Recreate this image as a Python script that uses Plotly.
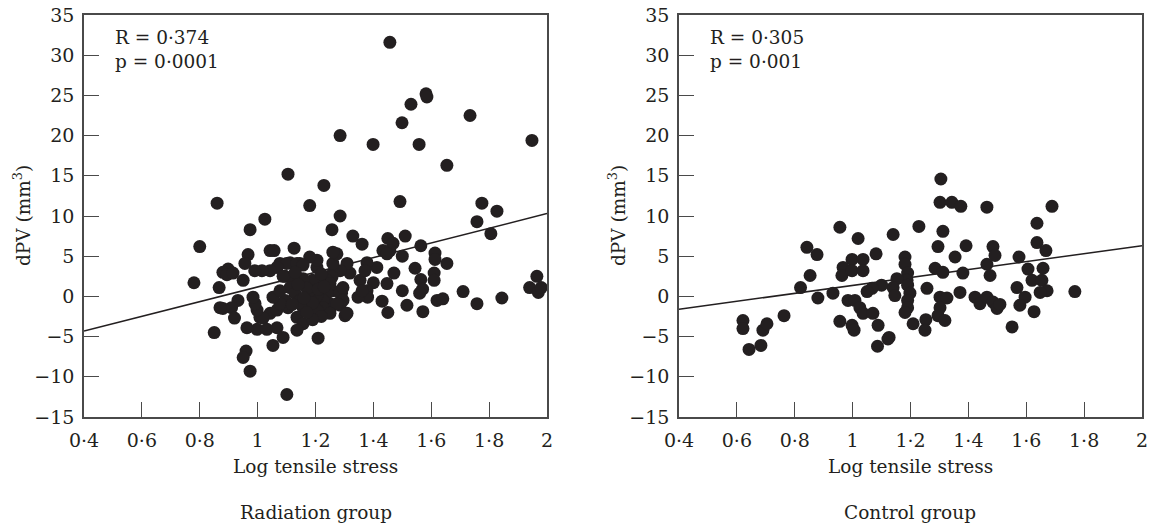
import plotly.graph_objects as go

# Radiation group: log tensile stress vs dPV (mm^3)
rad_x = [1.457, 1.582, 1.585, 1.530, 1.499, 1.734, 1.285, 1.399, 1.558, 1.948, 1.654, 1.105, 1.229,
         1.492, 0.860, 1.180, 1.775, 1.827, 1.758, 1.806, 1.285, 1.025, 0.974, 1.257, 1.329, 1.361,
         0.800, 0.780,
         1.450, 1.468, 1.457, 1.433, 1.510, 1.564, 1.613, 1.613, 1.654, 1.544, 1.564, 1.610, 1.610,
         1.570, 1.560, 1.500, 1.447, 1.471, 1.430, 1.500, 1.447, 1.412, 1.378, 1.400, 1.378, 1.380,
         1.347, 1.319, 1.309, 1.354, 1.371, 1.450, 1.516, 1.571, 1.620, 1.640, 1.710, 1.758, 1.844,
         1.965, 1.940, 1.970, 1.980, 1.302, 1.290, 1.361,
         1.285, 1.260, 1.260, 1.274, 1.257, 1.260, 1.260, 1.285, 1.295, 1.250, 1.285, 1.309, 1.250,
         1.274, 1.295, 1.240, 1.250, 1.240, 1.226, 1.226, 1.205, 1.205, 1.250, 1.209, 1.205, 1.205,
         1.215, 1.190, 1.180,
         1.180, 1.146, 1.112, 1.077, 1.043, 1.057, 1.126, 1.100, 1.136, 1.157, 1.067, 1.043, 1.015,
         0.990, 1.095, 1.118, 1.157, 1.088, 1.112, 1.129, 1.146, 1.157, 1.136, 1.157, 1.136, 1.088,
         1.053, 1.101, 1.095, 1.105, 1.043, 1.067, 1.077, 1.053, 1.077, 1.008, 1.019, 0.998, 0.991,
         0.984, 0.998, 1.032, 1.067,
         1.170, 1.190, 1.210, 1.220, 1.140, 1.160, 1.230, 1.120, 1.190, 1.170, 1.130, 1.220,
         0.967, 0.956, 0.898, 0.880, 0.894, 0.915, 0.950, 0.867, 0.932, 0.910, 0.880, 0.870, 0.920,
         0.850, 0.963, 0.960, 0.950, 0.974]
rad_y = [31.6, 25.2, 24.8, 23.9, 21.6, 22.5, 20.0, 18.9, 18.9, 19.4, 16.3, 15.2, 13.8,
         11.8, 11.6, 11.3, 11.6, 10.6, 9.3, 7.8, 10.0, 9.6, 8.3, 8.3, 7.5, 6.5,
         6.2, 1.7,
         7.2, 6.6, 5.7, 5.7, 7.5, 6.3, 5.4, 4.6, 4.1, 3.5, 2.1, 2.9, 2.0,
         0.9, 0.4, 0.7, 1.6, 2.9, -0.6, 5.0, 5.3, 3.6, 4.2, 1.7, 0.7, -0.1,
         -0.1, 2.9, 4.1, 2.0, 3.2, -2.0, -1.1, -1.9, -0.5, -0.3, 0.6, -0.9, -0.2,
         2.5, 1.1, 0.5, 1.1, -2.4, 0.4, 0.7,
         3.2, 2.9, 4.1, 5.3, 2.4, 5.5, 0.7, 0.4, -0.5, -0.9, -1.1, -2.1, -1.7,
         -0.9, 1.1, 2.0, 1.6, 0.4, -0.5, -1.4, -1.7, 0.1, -2.1, -5.2, 3.6, 4.5,
         1.6, 2.0, 0.7,
         4.9, 4.1, 4.2, 4.1, 5.7, 5.7, 6.0, 4.1, 4.1, 3.9, 3.6, 3.2, 3.2,
         3.2, 2.5, 2.2, 2.2, 2.5, 1.1, 0.4, -0.5, -1.4, -2.6, -3.4, -4.2, -5.1,
         -6.1, -12.2, -0.5, -1.4, -2.1, -1.7, -0.9, -0.1, 0.7, -2.6, -2.7, -1.7, -0.9,
         -0.1, -4.1, -4.1, -3.9,
         1.0, -0.8, 0.9, -2.5, 1.5, -0.2, 1.2, -1.0, -2.9, -2.0, 3.0, 2.8,
         5.2, 4.1, 3.4, 3.0, 2.7, 2.9, 2.0, 1.1, -0.5, -1.4, -1.5, -1.4, -2.7,
         -4.5, -3.9, -6.8, -7.6, -9.3]

# Control group
ctl_x = [1.305, 1.302, 1.343, 1.374, 1.464, 1.689, 0.956, 1.019, 1.140, 1.229, 1.312, 1.637, 1.637,
         1.668, 0.842, 0.877, 0.853, 0.820, 0.880, 0.932, 0.998, 1.036, 0.967, 0.963, 0.998, 1.036,
         1.081, 1.181, 1.181, 1.190, 1.188, 1.190, 1.153, 1.140, 1.100, 1.067, 1.050, 1.146, 1.198,
         1.190, 1.190, 1.181, 0.984, 1.008, 1.025, 1.036, 1.070, 1.088, 0.956, 0.998, 1.005, 1.209,
         1.253, 1.250, 1.126, 1.257, 1.285, 1.312, 1.295, 1.354, 1.392, 1.381, 1.371, 1.302, 1.326,
         1.302, 1.295, 1.319, 1.423, 1.440, 1.464, 1.485, 1.499, 1.509, 1.464, 1.475, 1.485, 1.492,
         1.575, 1.606, 1.620, 1.654, 1.658, 1.672, 1.648, 1.568, 1.596, 1.578, 1.627, 1.551, 1.768,
         0.621, 0.621, 0.642, 0.683, 0.690, 0.704, 0.763, 1.086, 1.122]
ctl_y = [14.6, 11.7, 11.7, 11.2, 11.1, 11.2, 8.6, 7.2, 7.7, 8.7, 8.1, 9.1, 6.7,
         5.7, 6.1, 5.2, 2.6, 1.1, -0.2, 0.4, 4.6, 4.6, 3.6, 2.6, 3.2, 3.2,
         5.3, 4.9, 4.0, 2.9, 2.0, 1.4, 2.2, 1.1, 1.4, 1.0, 0.6, 0.1, 0.4,
         -0.5, -1.4, -2.0, -0.5, -0.5, -1.4, -2.1, -2.1, -3.6, -3.1, -3.6, -4.2, -3.4,
         -2.9, -4.2, -5.1, 1.0, 3.5, 3.0, 6.2, 4.9, 6.3, 2.9, 0.5, -0.1, -0.2,
         -1.4, -2.4, -3.0, -0.1, -0.9, -0.1, -0.7, -1.5, -1.0, 4.0, 2.6, 6.2, 5.1,
         4.9, 3.4, 2.0, 2.0, 3.5, 0.7, 0.5, 1.1, -0.1, -1.1, -1.9, -3.8, 0.6,
         -3.0, -4.0, -6.6, -6.1, -4.2, -3.4, -2.4, -6.2, -5.3]

# Fitted regression lines (endpoints over the axis range)
fit_x = [0.4, 2.0]
rad_fit_y = [-4.3, 10.3]
ctl_fit_y = [-1.6, 6.3]

stats = ["R = 0·374<br>p = 0·0001", "R = 0·305<br>p = 0·001"]
group_names = ["Radiation group", "Control group"]

x_ticks = [0.4, 0.6, 0.8, 1.0, 1.2, 1.4, 1.6, 1.8, 2.0]
x_tick_text = ["0·4", "0·6", "0·8", "1", "1·2", "1·4", "1·6", "1·8", "2"]
y_ticks = [-15, -10, -5, 0, 5, 10, 15, 20, 25, 30, 35]
y_tick_text = ["−15", "−10", "−5", "0", "5", "10", "15", "20", "25", "30", "35"]

FONT = "DejaVu Serif"
INK = "#231f20"
W, H = 1152, 525
domains = [[84 / W, 547 / W], [679 / W, 1142 / W]]
y_dom = [1 - 417 / H, 1 - 15 / H]

fig = go.Figure()

panels = [(rad_x, rad_y, rad_fit_y), (ctl_x, ctl_y, ctl_fit_y)]
for i, (xs, ys, fy) in enumerate(panels):
    xa = "x" if i == 0 else "x2"
    ya = "y" if i == 0 else "y2"
    fig.add_trace(go.Scatter(x=fit_x, y=fy, mode="lines", xaxis=xa, yaxis=ya,
                             line=dict(color=INK, width=1.5), showlegend=False,
                             hoverinfo="skip", cliponaxis=True))
    fig.add_trace(go.Scatter(x=xs, y=ys, mode="markers", xaxis=xa, yaxis=ya,
                             marker=dict(color=INK, size=13, line=dict(width=0)),
                             showlegend=False))

axis_common = dict(showgrid=False, zeroline=False, showline=True, mirror=True,
                   automargin=False,
                   linecolor="#4a4a4a", linewidth=1.5, ticks="inside", ticklen=15,
                   tickwidth=1.2, tickcolor="#4a4a4a",
                   tickfont=dict(family=FONT, size=19, color=INK))

for i in range(2):
    sfx = "" if i == 0 else "2"
    fig.update_layout(**{
        f"xaxis{sfx}": dict(axis_common, domain=domains[i], range=[0.4, 2.0],
                            tickmode="array", tickvals=x_ticks, ticktext=x_tick_text,
                            ticklabelstandoff=5, anchor=f"y{sfx}"),
        f"yaxis{sfx}": dict(axis_common, domain=y_dom, range=[-15, 35],
                            tickmode="array", tickvals=y_ticks, ticktext=y_tick_text,
                            ticklabelstandoff=4, anchor=f"x{sfx}"),
    })

TXT = dict(family=FONT, size=18.5, color=INK)
annotations = []
for i in range(2):
    x0, x1 = domains[i]
    xref = "x" if i == 0 else "x2"
    yref = "y" if i == 0 else "y2"
    annotations.append(dict(x=0.5, y=33.8, xref=xref, yref=yref, text=stats[i],
                            showarrow=False, xanchor="left", yanchor="top", align="left",
                            font=TXT))
    annotations.append(dict(x=(x0 + x1) / 2, y=1 - 466 / H, xref="paper", yref="paper",
                            text="Log tensile stress", showarrow=False,
                            xanchor="center", yanchor="middle", font=TXT))
    annotations.append(dict(x=(x0 + x1) / 2, y=1 - 512 / H, xref="paper", yref="paper",
                            text=group_names[i], showarrow=False,
                            xanchor="center", yanchor="middle", font=TXT))
    annotations.append(dict(x=x0 - 62 / W, y=1 - 216 / H, xref="paper", yref="paper",
                            text="dPV (mm<sup>3</sup>)", showarrow=False, textangle=-90,
                            xanchor="center", yanchor="middle", font=TXT))

fig.update_layout(width=W, height=H, margin=dict(l=0, r=0, t=0, b=0, autoexpand=False),
                  paper_bgcolor="white", plot_bgcolor="white",
                  annotations=annotations, font=dict(family=FONT, color=INK))

fig.write_html("out.html")
